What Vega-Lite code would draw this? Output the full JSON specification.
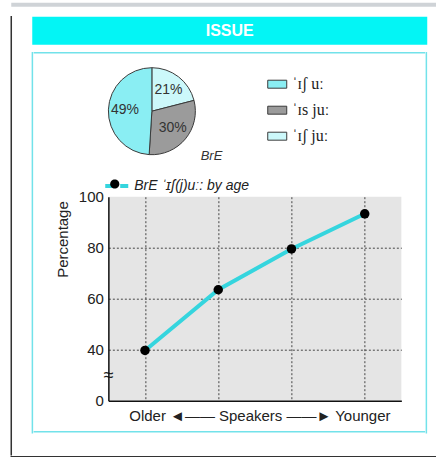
{
  "$schema": "https://vega.github.io/schema/vega-lite/v6.json",
  "background": "white",
  "padding": {"left": 10.25, "top": 2.7, "right": 0, "bottom": 0},
  "config": {
    "font": "Liberation Sans",
    "view": {"stroke": null},
    "legend": {"padding": 0}
  },
  "spacing": 0,
  "vconcat": [
    {
      "spacing": 9,
      "vconcat": [
        {
          "width": 425, "height": 4,
          "view": {"fill": "#cfd3d7", "stroke": null},
          "data": {"values": []},
          "mark": {"type": "text"},
          "encoding": {}
        },
        {
          "spacing": 19,
          "hconcat": [
            {
              "width": 0.01, "height": 438,
              "view": {"stroke": "#333333", "strokeWidth": 1.5},
              "data": {"values": []},
              "mark": {"type": "text"},
              "encoding": {}
            },
            {
              "center": true,
              "spacing": 7,
              "vconcat": [
                {
                  "width": 395, "height": 28,
                  "view": {"fill": "#03F5F5", "stroke": null},
                  "data": {"values": [{"heading": "ISSUE"}]},
                  "mark": {"type": "text", "color": "white", "fontWeight": "bold", "fontSize": 16, "font": "Liberation Sans"},
                  "encoding": {"text": {"field": "heading", "type": "nominal"}}
                },
                {
                  "spacing": 0,
                  "hconcat": [
                    {
                      "width": 0.01, "height": 380,
                      "view": {"stroke": "#72E2EA", "strokeWidth": 1.5},
                      "data": {"values": []},
                      "mark": {"type": "text"},
                      "encoding": {}
                    },
                    {
                      "spacing": 7,
                      "vconcat": [
                        {
                          "spacing": 12,
                          "vconcat": [
                            {
                              "width": 390, "height": 0.01,
                              "view": {"stroke": "#72E2EA", "strokeWidth": 1.5},
                              "data": {"values": []},
                              "mark": {"type": "text"},
                              "encoding": {}
                            },
                            {
                              "spacing": 19,
                              "hconcat": [
                                {
                                  "width": 0.01, "height": 0.01,
                                  "data": {"values": []},
                                  "mark": {"type": "text"},
                                  "encoding": {}
                                },
                                {
                                  "bounds": "flush",
                                  "spacing": 42,
                                  "vconcat": [
                                    {
                                      "width": 87, "height": 87,
                                      "title": {"text": "BrE", "orient": "bottom", "anchor": "end", "fontStyle": "italic", "fontWeight": "normal", "fontSize": 13, "color": "#333", "dx": 25, "offset": -7},
                                      "data": {"values": [
                                        {"pronunciation": "ˈɪʃ juː", "percent": 21, "label": "21%", "slice": 1},
                                        {"pronunciation": "ˈɪs juː", "percent": 30, "label": "30%", "slice": 2},
                                        {"pronunciation": "ˈɪʃ uː", "percent": 49, "label": "49%", "slice": 3}
                                      ]},
                                      "encoding": {
                                        "theta": {"field": "percent", "type": "quantitative", "stack": true},
                                        "order": {"field": "slice", "type": "quantitative"}
                                      },
                                      "layer": [
                                        {
                                          "mark": {"type": "arc", "stroke": "#3a3a3a", "strokeWidth": 1},
                                          "encoding": {
                                            "color": {
                                              "field": "pronunciation", "type": "nominal",
                                              "scale": {"domain": ["ˈɪʃ uː", "ˈɪs juː", "ˈɪʃ juː"], "range": ["#8AEEF3", "#9B9B9B", "#CCF8FA"]},
                                              "legend": {
                                                "orient": "none", "legendX": 256, "legendY": 71.5, "title": null,
                                                "symbolType": "M-1,-0.42H1V0.42H-1Z", "symbolSize": 361,
                                                "symbolStrokeColor": "#3a3a3a", "symbolStrokeWidth": 1,
                                                "labelFont": "Liberation Serif", "labelFontSize": 16, "labelColor": "#222",
                                                "labelOffset": 5, "rowPadding": 8, "padding": 0
                                              }
                                            }
                                          }
                                        },
                                        {
                                          "mark": {"type": "text", "radius": 27, "fontSize": 14, "color": "#333"},
                                          "encoding": {"text": {"field": "label", "type": "nominal"}}
                                        }
                                      ]
                                    },
                                    {
                                      "width": 293, "height": 204,
                                      "view": {"fill": "#E5E5E5", "stroke": null},
                                      "data": {"values": [
                                        {"speakers": "1", "percentage": 39.7, "series": "BrE ˈɪʃ(j)uː: by age"},
                                        {"speakers": "2", "percentage": 63.5, "series": "BrE ˈɪʃ(j)uː: by age"},
                                        {"speakers": "3", "percentage": 79.5, "series": "BrE ˈɪʃ(j)uː: by age"},
                                        {"speakers": "4", "percentage": 93.3, "series": "BrE ˈɪʃ(j)uː: by age"}
                                      ]},
                                      "encoding": {
                                        "x": {
                                          "field": "speakers", "type": "ordinal",
                                          "title": "Older  ◄——  Speakers  ——►  Younger",
                                          "scale": {"paddingInner": 0, "paddingOuter": 0},
                                          "axis": {
                                            "labels": false, "ticks": false, "tickSize": 0, "bandPosition": 0,
                                            "grid": true, "gridColor": "#444", "gridDash": [2, 2], "gridWidth": 1,
                                            "domainColor": "#111", "domainWidth": 1.5,
                                            "titleFontSize": 15, "titleFontWeight": "normal", "titleColor": "#222",
                                            "titlePadding": 8, "titleX": 151
                                          }
                                        },
                                        "y": {
                                          "field": "percentage", "type": "quantitative",
                                          "title": "Percentage",
                                          "scale": {"domain": [20, 100], "nice": false, "zero": false},
                                          "axis": {
                                            "values": [20, 30, 40, 60, 80, 100],
                                            "labelExpr": "datum.value == 20 ? '0' : datum.value == 30 ? '≈' : datum.label",
                                            "labelAlign": {"condition": {"test": "datum.value == 30", "value": "left"}, "value": "right"},
                                            "labelFontSize": {"condition": {"test": "datum.value == 30", "value": 18}, "value": 15},
                                            "labelOverlap": false,
                                            "ticks": false, "tickSize": 0, "labelPadding": 5,
                                            "labelColor": "#222",
                                            "domainColor": "#111", "domainWidth": 1.5,
                                            "grid": true, "gridColor": "#444", "gridDash": [2, 2], "gridWidth": 1,
                                            "gridOpacity": {"condition": {"test": "datum.value == 20 || datum.value == 30 || datum.value == 100", "value": 0}, "value": 1},
                                            "titleFontSize": 15, "titleFontWeight": "normal",
                                            "titleColor": "#222", "titleAnchor": "end", "titlePadding": 8, "titleY": 4
                                          }
                                        }
                                      },
                                      "layer": [
                                        {
                                          "mark": {"type": "line", "strokeWidth": 4},
                                          "encoding": {
                                            "stroke": {
                                              "field": "series", "type": "nominal",
                                              "scale": {"range": ["#35D5DE"]},
                                              "legend": {
                                                "orient": "none", "legendX": 92, "legendY": 169.8, "title": null,
                                                "symbolType": "M-1,0H-0.3M0.3,0H1", "symbolSize": 529, "symbolStrokeWidth": 4,
                                                "labelFont": "Liberation Sans", "labelFontStyle": "italic", "labelFontSize": 14,
                                                "labelColor": "#222", "labelOffset": 4, "padding": 0
                                              }
                                            }
                                          }
                                        },
                                        {
                                          "mark": {"type": "point", "filled": true, "opacity": 1, "size": 90},
                                          "encoding": {
                                            "fill": {
                                              "datum": "dot", "type": "nominal",
                                              "scale": {"range": ["#000000"]},
                                              "legend": {
                                                "orient": "none", "legendX": 92, "legendY": 169.8, "title": null,
                                                "symbolType": "M-0.4,0A0.4,0.4 0 1,1 0.4,0A0.4,0.4 0 1,1 -0.4,0Z",
                                                "symbolSize": 529, "symbolStrokeWidth": 0, "labelExpr": "''", "padding": 0
                                              }
                                            }
                                          }
                                        }
                                      ]
                                    }
                                  ]
                                }
                              ]
                            }
                          ]
                        },
                        {
                          "width": 390, "height": 0.01,
                          "view": {"stroke": "#72E2EA", "strokeWidth": 1.5},
                          "data": {"values": []},
                          "mark": {"type": "text"},
                          "encoding": {}
                        }
                      ]
                    },
                    {
                      "width": 0.01, "height": 380,
                      "view": {"stroke": "#72E2EA", "strokeWidth": 1.5},
                      "data": {"values": []},
                      "mark": {"type": "text"},
                      "encoding": {}
                    }
                  ]
                }
              ]
            }
          ]
        }
      ]
    },
    {
      "width": 424, "height": 0.01,
      "view": {"stroke": "#333333", "strokeWidth": 1.5},
      "data": {"values": []},
      "mark": {"type": "text"},
      "encoding": {}
    }
  ]
}
